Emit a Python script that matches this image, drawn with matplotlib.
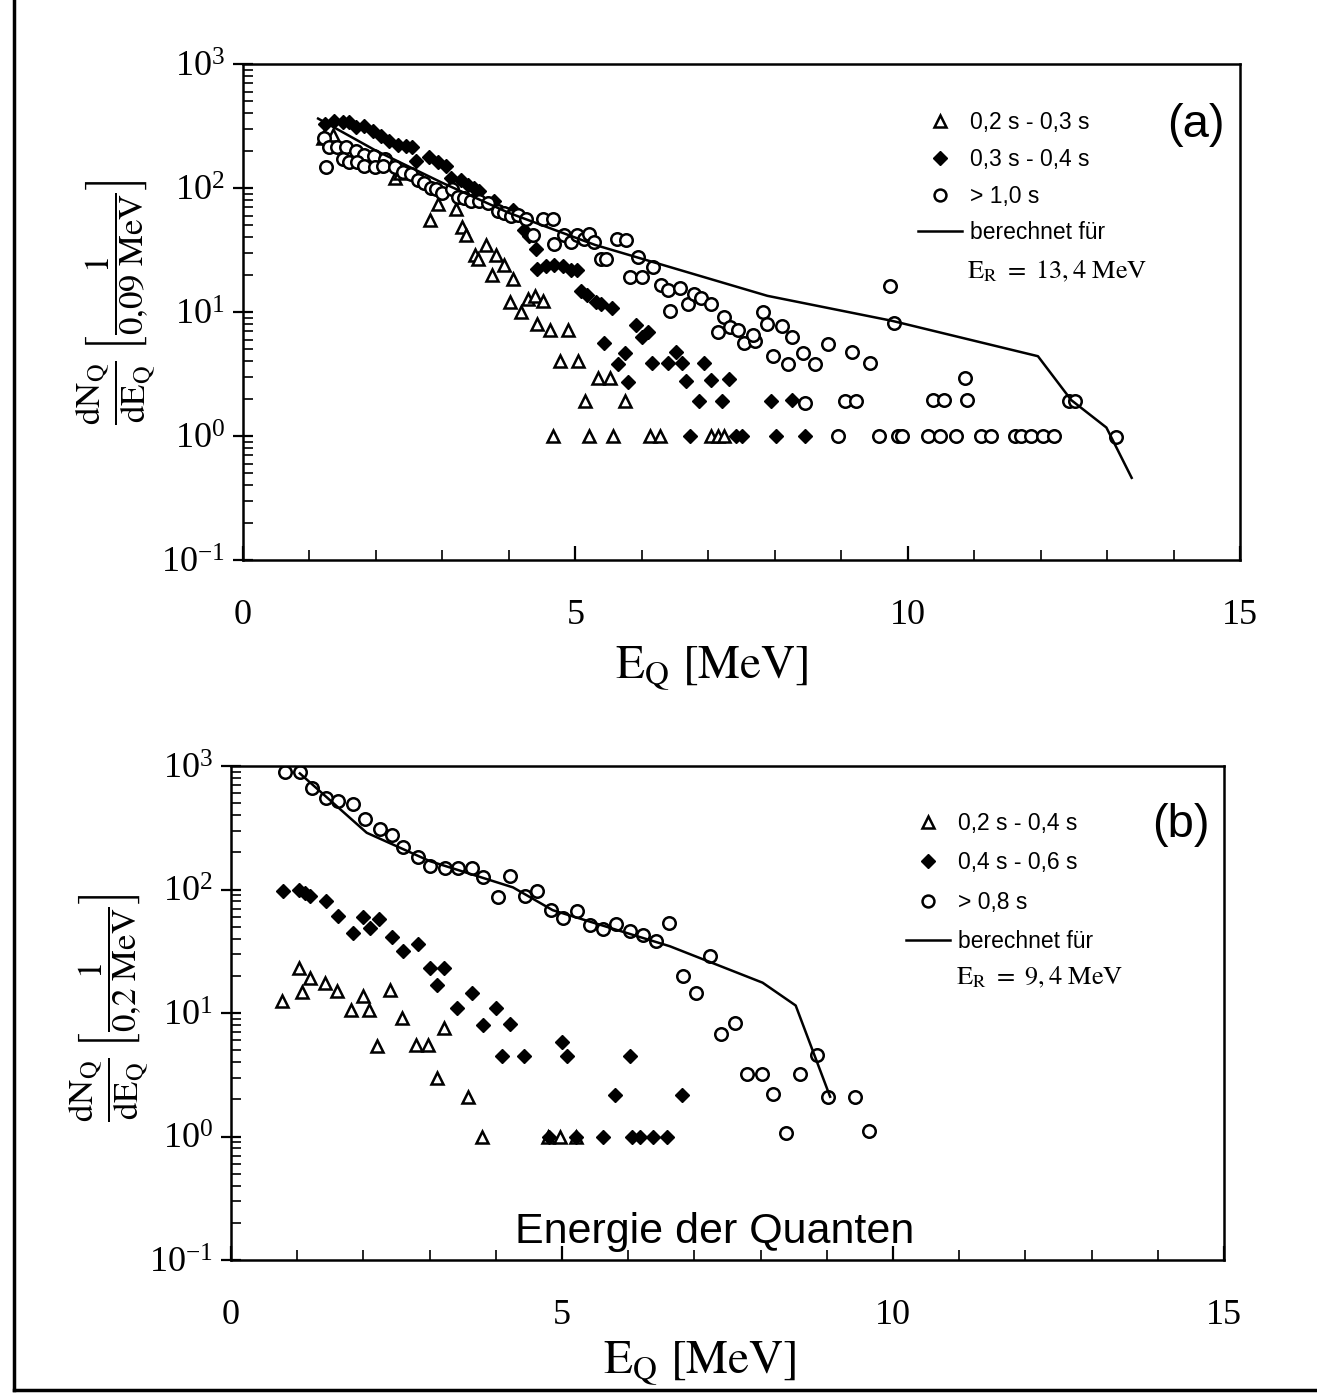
import matplotlib
matplotlib.use('Agg')
import matplotlib.pyplot as plt
from matplotlib.ticker import MultipleLocator, LogLocator, NullFormatter
from matplotlib.lines import Line2D

plt.rcParams.update({
    'font.family': 'serif',
    'font.serif': ['Liberation Serif', 'DejaVu Serif'],
    'mathtext.fontset': 'stix',
    'axes.linewidth': 1.8,
})

SANS = ['Liberation Sans', 'DejaVu Sans']

# ---------------- panel (a) data ----------------
a_tri_E = [1.20, 1.35, 2.29, 2.36, 2.81, 2.94, 3.21, 3.29, 3.36, 3.66, 3.49, 3.54, 3.81, 3.92,
           3.74, 4.06, 4.01, 4.19, 4.29, 4.39, 4.52, 4.42, 4.62, 4.89, 4.77, 5.04, 5.34, 5.52,
           5.14, 5.74, 4.66, 5.21, 5.56, 6.13, 6.28, 7.04, 7.14, 7.24]
a_tri_N = [251, 270, 120, 131, 55.6, 74, 68, 48.6, 41.5, 34.7, 28.8, 26.9, 28.8, 24,
           20, 18.3, 12, 10, 12.8, 13.4, 12.3, 8, 7.1, 7.1, 4, 4, 2.95, 2.95,
           1.9, 1.9, 1.0, 1.0, 1.0, 1.0, 1.0, 1.0, 1.0, 1.0]

a_dia_E = [1.24, 1.37, 1.50, 1.60, 1.70, 1.82, 1.95, 2.07, 2.20, 2.33, 2.45, 2.55, 2.60, 2.80,
           2.93, 3.05, 3.13, 3.28, 3.38, 3.48, 3.55, 3.78, 4.06, 4.23, 4.31, 4.41, 4.43, 4.56,
           4.68, 4.81, 4.93, 5.03, 5.08, 5.18, 5.31, 5.38, 5.55, 5.43, 5.91, 6.01, 6.09, 5.74,
           5.64, 5.79, 6.16, 6.39, 6.51, 6.61, 6.94, 6.66, 7.04, 7.31, 6.86, 7.21, 7.95, 8.26,
           6.73, 7.42, 7.51, 8.02, 8.45]
a_dia_N = [331, 347, 339, 339, 309, 316, 288, 263, 240, 224, 219, 214, 166, 178,
           162, 151, 120, 117, 105, 100, 95, 79, 66, 45.7, 40.7, 32.4, 22.4, 23.4,
           24, 23.4, 21.9, 21.9, 14.8, 13.8, 12, 11.5, 10.8, 5.6, 7.8, 6.3, 6.9, 4.7,
           3.8, 2.75, 3.9, 3.9, 4.8, 3.9, 3.9, 2.8, 2.85, 2.9, 1.9, 1.9, 1.93, 1.95,
           1.0, 1.0, 1.0, 1.0, 1.0]

a_circ_E = [1.22, 1.30, 1.42, 1.55, 1.70, 1.82, 1.97, 2.13, 1.25, 1.50, 1.60, 1.72, 1.82, 1.98,
            2.10, 2.28, 2.40, 2.53, 2.63, 2.73, 2.83, 2.90, 3.00, 3.15, 3.23, 3.33, 3.43, 3.55,
            3.68, 3.83, 3.93, 4.03, 4.13, 4.26, 4.36, 4.51, 4.66, 4.68, 4.83, 4.93, 5.03, 5.13,
            5.21, 5.28, 5.38, 5.46, 5.63, 5.76, 5.95, 5.82, 6.01, 6.17, 6.29, 6.39, 6.57, 6.42,
            6.70, 6.79, 6.89, 7.04, 7.23, 7.14, 7.33, 7.45, 7.54, 7.70, 7.67, 7.82, 7.89, 7.98,
            8.11, 8.20, 8.26, 8.42, 8.61, 8.80, 9.17, 9.43, 9.74, 9.80, 8.45, 9.05, 9.22, 10.38,
            10.54, 10.90, 10.86, 12.42, 12.52, 13.14, 8.95, 9.57, 9.85, 9.91, 10.30, 10.49, 10.72,
            11.10, 11.25, 11.62, 11.70, 11.86, 12.04, 12.20]
a_circ_N = [251, 214, 214, 214, 200, 186, 182, 170, 148, 170, 162, 162, 151, 148,
            151, 148, 135, 129, 117, 110, 100, 98, 91, 98, 85, 83, 78, 78,
            76, 65, 63, 59, 61, 56, 41.5, 56, 56, 35.5, 41.5, 36.5, 41.5, 38.5,
            42.5, 37, 27, 27, 39, 38, 28, 19, 19, 23.2, 16.5, 15, 15.5, 10.2,
            11.5, 13.9, 13, 11.6, 9.1, 6.9, 7.6, 7.2, 5.6, 5.8, 6.5, 10, 8, 4.4,
            7.7, 3.8, 6.3, 4.7, 3.8, 5.5, 4.8, 3.9, 16.3, 8.1, 1.86, 1.9, 1.9, 1.95,
            1.95, 1.95, 2.95, 1.9, 1.9, 0.98, 1.0, 1.0, 1.0, 1.0, 1.0, 1.0, 1.0,
            1.0, 1.0, 1.0, 1.0, 1.0, 1.0, 1.0]

a_calc_E = [1.13, 2.0, 3.0, 4.0, 5.3, 7.89, 9.76, 11.96, 12.46, 12.99, 13.37]
a_calc_N = [363, 200, 110, 63, 34.7, 13.5, 8.5, 4.4, 1.95, 1.17, 0.46]

# ---------------- panel (b) data ----------------
b_tri_E = [0.77, 1.02, 1.07, 1.19, 1.42, 1.60, 1.82, 2.00, 2.08, 2.20, 2.40, 2.58, 2.80, 2.98,
           3.21, 3.11, 3.58, 3.79, 4.79, 4.97, 5.21]
b_tri_N = [12.6, 23, 14.9, 19.2, 17.6, 15, 10.5, 13.8, 10.5, 5.4, 15.4, 9.1, 5.5, 5.5,
           7.6, 3.0, 2.1, 1.0, 1.0, 1.0, 1.0]

b_dia_E = [0.79, 1.02, 1.12, 1.19, 1.43, 1.62, 1.84, 2.00, 2.10, 2.24, 2.43, 2.60, 2.83, 3.00,
           3.22, 3.11, 3.41, 3.64, 3.81, 4.01, 4.21, 4.10, 4.42, 5.00, 5.08, 6.02, 5.80, 6.82,
           4.80, 5.21, 5.62, 6.05, 6.18, 6.38, 6.58]
b_dia_N = [98, 100, 94, 88, 81, 61, 44.7, 60, 49, 58, 41, 31.6, 36.3, 23,
           23, 17, 10.9, 14.4, 8, 11, 8.1, 4.5, 4.5, 5.8, 4.5, 4.5, 2.15, 2.15,
           1.0, 1.0, 1.0, 1.0, 1.0, 1.0, 1.0]

b_circ_E = [0.82, 1.04, 1.22, 1.44, 1.62, 1.85, 2.02, 2.25, 2.43, 2.60, 2.83, 3.01, 3.23, 3.43,
            3.64, 3.81, 4.04, 4.21, 4.44, 4.62, 4.84, 5.02, 5.22, 5.42, 5.62, 5.82, 6.03, 6.23,
            6.42, 6.61, 7.24, 6.83, 7.02, 7.40, 7.62, 7.80, 8.02, 8.60, 8.19, 8.85, 9.02, 9.43,
            8.39, 9.64]
b_circ_N = [891, 891, 661, 550, 525, 490, 372, 309, 275, 219, 182, 155, 148, 148,
            148, 126, 87, 129, 89, 98, 68, 59, 67, 52, 48, 53, 46, 42.5,
            38, 54, 28.7, 20, 14.6, 6.8, 8.3, 3.2, 3.2, 3.2, 2.2, 4.6, 2.1, 2.1,
            1.07, 1.1]

b_calc_E = [1.04, 2.05, 3.0, 4.26, 4.86, 6.63, 8.03, 8.53, 9.05]
b_calc_N = [871, 288, 170, 104, 68, 34.7, 17.6, 11.5, 2.1]


fig = plt.figure(figsize=(13.17, 14), dpi=100)
fig.patch.set_facecolor('white')

axA = fig.add_axes([243 / 1317, 1 - 560 / 1400, 997 / 1317, 496 / 1400])
axB = fig.add_axes([231 / 1317, 1 - 1260 / 1400, 993 / 1317, 494 / 1400])

mk = dict(linestyle='none', color='black')


def style_axis(ax):
    ax.set_yscale('log')
    ax.set_xlim(0, 15)
    ax.set_ylim(0.1, 1000)
    ax.set_xticks([0, 5, 10, 15])
    ax.xaxis.set_minor_locator(MultipleLocator(1))
    ax.yaxis.set_major_locator(LogLocator(base=10, numticks=10))
    ax.yaxis.set_minor_locator(LogLocator(base=10, subs=range(2, 10), numticks=50))
    ax.yaxis.set_minor_formatter(NullFormatter())
    ax.tick_params(axis='y', which='major', direction='inout', length=14, width=1.6,
                   labelsize=26, pad=6)
    ax.tick_params(axis='y', which='minor', direction='in', length=7, width=1.2)
    ax.tick_params(axis='x', which='major', direction='in', length=10, width=1.6,
                   labelsize=26, pad=28)
    ax.tick_params(axis='x', which='minor', direction='in', length=7, width=1.2)
    for s in ax.spines.values():
        s.set_linewidth(1.8)


def draw_panel(ax, tri, dia, circ, calc, labels, er_text, tag, leg_xy, spacing,
               er_xy, tag_xy, ylab, ylab_xy, xlab_xy):
    style_axis(ax)
    h1, = ax.plot(tri[0], tri[1], marker='^', ms=9, mfc='white', mec='black', mew=1.8, **mk)
    h2, = ax.plot(dia[0], dia[1], marker='D', ms=7, mfc='black', mec='black', mew=1, **mk)
    h3, = ax.plot(circ[0], circ[1], marker='o', ms=9, mfc='white', mec='black', mew=1.8, **mk)
    h4, = ax.plot(calc[0], calc[1], color='black', lw=1.8)
    ax.legend([h1, h2, h3, h4], labels, loc='upper left', bbox_to_anchor=leg_xy,
              frameon=False, borderpad=0, borderaxespad=0, handlelength=1.9,
              handletextpad=0.35, labelspacing=spacing, markerscale=0.95,
              prop={'family': SANS, 'size': 16.5})
    ax.text(er_xy[0], er_xy[1], er_text, transform=ax.transAxes, fontsize=19,
            ha='left', va='center')
    ax.text(tag_xy[0], tag_xy[1], tag, transform=ax.transAxes, fontsize=34,
            family=SANS, ha='center', va='center')
    ax.set_ylabel(ylab, fontsize=25)
    ax.yaxis.set_label_coords(*ylab_xy)
    ax.set_xlabel(r'$\mathrm{E_Q\ [MeV]}$', fontsize=34)
    ax.xaxis.set_label_coords(*xlab_xy)


draw_panel(axA, (a_tri_E, a_tri_N), (a_dia_E, a_dia_N), (a_circ_E, a_circ_N),
           (a_calc_E, a_calc_N),
           ['0,2 s - 0,3 s', '0,3 s - 0,4 s', '> 1,0 s', 'berechnet für'],
           r'$\mathrm{E_R}\ =\ 13,4\ \mathrm{MeV}$', '(a)',
           (0.677, 0.905), 0.6, (0.726, 0.581), (0.956, 0.877),
           r'$\dfrac{\mathrm{dN_Q}}{\mathrm{dE_Q}}\ \left[\dfrac{1}{0{,}09\ \mathrm{MeV}}\right]$',
           (-0.086, 0.52), (0.47, -0.17))

draw_panel(axB, (b_tri_E, b_tri_N), (b_dia_E, b_dia_N), (b_circ_E, b_circ_N),
           (b_calc_E, b_calc_N),
           ['0,2 s - 0,4 s', '0,4 s - 0,6 s', '> 0,8 s', 'berechnet für'],
           r'$\mathrm{E_R}\ =\ 9,4\ \mathrm{MeV}$', '(b)',
           (0.68, 0.907), 0.72, (0.730, 0.573), (0.957, 0.88),
           r'$\dfrac{\mathrm{dN_Q}}{\mathrm{dE_Q}}\ \left[\dfrac{1}{0{,}2\ \mathrm{MeV}}\right]$',
           (-0.082, 0.51), (0.472, -0.16))

axB.text(0.487, 0.057, 'Energie der Quanten', transform=axB.transAxes, fontsize=31,
         family=SANS, ha='center', va='center')

# page frame of the scanned sheet
fig.add_artist(Line2D([14 / 1317, 14 / 1317], [0.007, 1.0], color='black', lw=2.5))
fig.add_artist(Line2D([14 / 1317, 1.0], [0.007, 0.007], color='black', lw=2.5))

fig.savefig('out.png', dpi=100, facecolor='white')
